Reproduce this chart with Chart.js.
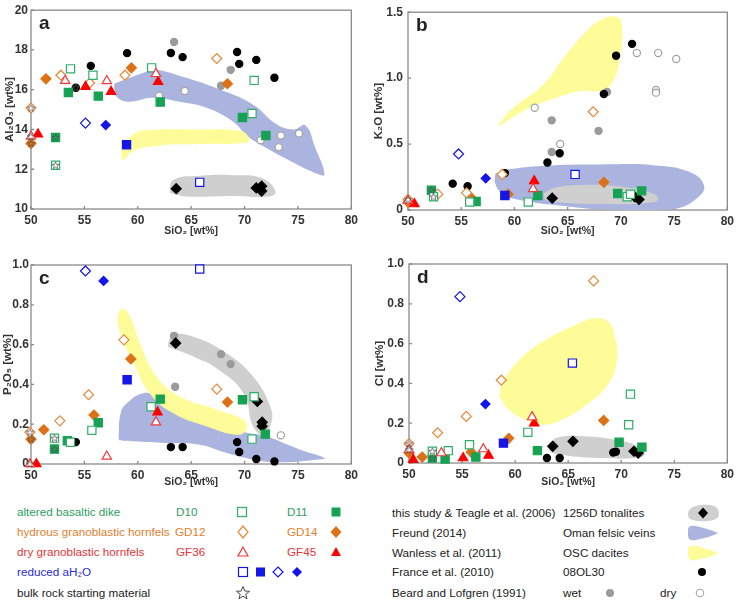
<!DOCTYPE html>
<html>
<head>
<meta charset="utf-8">
<script src="https://cdn.jsdelivr.net/npm/chart.js@4.4.0/dist/chart.umd.min.js"></script>
<style>
  body { margin: 0; background: #fff; width: 738px; height: 604px; position: relative; overflow: hidden;
         font-family: "Liberation Sans", Arial, sans-serif; }
  canvas { position: absolute; }
  .lg { position: absolute; font-size: 11.7px; line-height: 14px; white-space: nowrap; color: #222; }
  .ic { position: absolute; }
  .green { color: #2e9e5e; } .orange { color: #e0802c; } .red { color: #e83338; } .blue { color: #2b2bd6; }
</style>
</head>
<body>
<canvas id="chartA" width="362" height="240" style="left:0;top:0"></canvas>
<canvas id="chartB" width="368" height="240" style="left:370px;top:0"></canvas>
<canvas id="chartC" width="362" height="245" style="left:0;top:250px"></canvas>
<canvas id="chartD" width="368" height="245" style="left:370px;top:250px"></canvas>

<!-- legend, left block -->
<div class="lg green" style="left:17px;top:505px">altered basaltic dike</div>
<div class="lg green" style="left:176px;top:505px">D10</div>
<div class="lg green" style="left:287px;top:505px">D11</div>
<div class="lg orange" style="left:17px;top:525px">hydrous granoblastic hornfels</div>
<div class="lg orange" style="left:175px;top:525px">GD12</div>
<div class="lg orange" style="left:287px;top:525px">GD14</div>
<div class="lg red" style="left:17px;top:545px">dry granoblastic hornfels</div>
<div class="lg red" style="left:176px;top:545px">GF36</div>
<div class="lg red" style="left:287px;top:545px">GF45</div>
<div class="lg blue" style="left:17px;top:565px">reduced aH₂O</div>
<div class="lg" style="left:17px;top:586px">bulk rock starting material</div>

<svg class="ic" style="left:0;top:495px" width="370" height="109">
  <rect x="237.5" y="12.5" width="9" height="9" fill="#fff" stroke="#2fae6a" stroke-width="1.2"/>
  <rect x="331.5" y="12.5" width="9" height="9" fill="#17a253"/>
  <polygon points="243,31 248,37 243,43 238,37" fill="#fff" stroke="#e58a3a" stroke-width="1.2"/>
  <polygon points="336,31 341.5,37 336,43 330.5,37" fill="#dd7116"/>
  <polygon points="243,52 248,61 238,61" fill="#fff" stroke="#ef3b3b" stroke-width="1.2"/>
  <polygon points="336,52 341,61 331,61" fill="#f00"/>
  <rect x="238.5" y="72.5" width="9" height="9" fill="#fff" stroke="#1515e8" stroke-width="1.2"/>
  <rect x="256" y="72.5" width="9" height="9" fill="#1515e8"/>
  <polygon points="278,72 283,77 278,82 273,77" fill="#fff" stroke="#1515e8" stroke-width="1.2"/>
  <polygon points="297,72 302,77 297,82 292,77" fill="#1515e8"/>
  <polygon points="243,91.5 244.8,96 249.5,96.3 245.8,99.2 247,103.8 243,101.2 239,103.8 240.2,99.2 236.5,96.3 241.2,96"
           fill="none" stroke="#333" stroke-width="0.9"/>
</svg>

<!-- legend, right block -->
<div class="lg" style="left:392px;top:506px">this study &amp; Teagle et al. (2006)</div>
<div class="lg" style="left:563px;top:506px">1256D tonalites</div>
<div class="lg" style="left:392px;top:526px">Freund (2014)</div>
<div class="lg" style="left:563px;top:526px">Oman felsic veins</div>
<div class="lg" style="left:392px;top:546px">Wanless et al. (2011)</div>
<div class="lg" style="left:563px;top:546px">OSC dacites</div>
<div class="lg" style="left:392px;top:565px">France et al. (2010)</div>
<div class="lg" style="left:563px;top:565px">08OL30</div>
<div class="lg" style="left:392px;top:586px">Beard and Lofgren (1991)</div>
<div class="lg" style="left:563px;top:586px">wet</div>
<div class="lg" style="left:660px;top:586px">dry</div>

<svg class="ic" style="left:370px;top:495px" width="368" height="109">
  <path d="M318,19 C318,11 330,9 340,10 C349,11 350,18 348,22 C345,27 330,27 322,25 C319,24 318,22 318,19 Z" fill="#cfcfcf"/>
  <polygon points="333,12.5 338,18 333,23.5 328,18" fill="#000"/>
  <path d="M318,35 C318,30 322,30 328,31.5 C336,33.5 344,36 348,38 C344,41 334,43 326,45 C320,46 318,44 318,40 Z" fill="#aab4de"/>
  <path d="M318,55 C318,50 322,50 328,51.5 C336,53.5 344,56 348,58 C344,61 334,63 326,65 C320,66 318,64 318,60 Z" fill="#fdfc98"/>
  <circle cx="332" cy="77" r="4" fill="#000"/>
  <circle cx="240" cy="98" r="4" fill="#9b9b9b"/>
  <circle cx="330" cy="98" r="3.8" fill="#fff" stroke="#a0a0a0" stroke-width="1"/>
</svg>

<script>
/* ---------- AXIS TICKS ---------- */
const xTickValues = [50, 55, 60, 65, 70, 75, 80];
const yTicksA = [10, 12, 14, 16, 18, 20];
const yTicksB = [0, 0.5, 1.0, 1.5];
const yTicksCD = [0, 0.2, 0.4, 0.6, 0.8, 1.0];

/* ---------- PANEL a : Al2O3 ---------- */
const a_D10 = [[53.7,17.05],[55.8,16.73],[61.3,17.1],[70.9,16.47],[70.7,14.8],[52.3,12.2]];
const a_D11 = [[53.5,15.86],[56.3,15.68],[62.1,15.38],[69.8,14.6],[72.0,13.7],[52.3,13.6]];
const a_GD12 = [[52.8,16.73],[55.5,16.34],[58.8,16.73],[67.4,17.57],[50.0,15.08]];
const a_GD14 = [[51.4,16.55],[59.4,17.1],[68.4,16.3],[50.0,13.3]];
const a_GF36 = [[53.2,16.45],[57.1,16.44],[61.7,16.8],[50.0,13.65]];
const a_GF45 = [[50.65,13.76],[55.1,16.15],[57.5,15.9],[61.9,16.4]];
const a_redOpenSq = [[65.8,11.34]];
const a_redFillSq = [[58.95,13.23]];
const a_redOpenDia = [[55.1,14.32]];
const a_redFillDia = [[57.0,14.22]];
const a_tonalite = [[63.6,11.02],[71.1,11.06],[71.6,11.15],[71.6,10.9]];
const a_france = [[54.2,16.1],[55.6,17.2],[59.0,17.84],[63.1,17.85],[64.2,17.64],[69.3,17.9],[69.5,17.3],[71.1,17.5],[72.8,16.6]];
const a_wet = [[63.4,18.4],[68.7,17.0],[67.8,16.2]];
const a_dry = [[62.0,15.7],[64.4,15.94],[71.5,13.46],[73.4,13.7],[73.2,13.1],[75.1,13.8]];
const a_start = [[50.0,15.08],[50.0,13.65],[50.0,13.3],[52.3,13.6],[52.3,12.2],[54.2,16.1]];
const a_freund = [[57.8,16.3],[60.8,16.9],[61.7,17.0],[64.2,16.65],[67.4,16.07],[70.8,15.25],[73.0,14.26],[74.6,14.0],[75.7,14.2],
                  [76.6,13.1],[77.5,11.75],[76.9,11.75],[74.2,12.44],[71.4,13.27],[70.2,13.7],[68.9,14.4],[66.4,15.1],
                  [63.9,15.4],[61.4,15.6],[59.1,15.4],[58.0,15.66],[57.8,16.07]];
const a_wanless = [[58.5,12.44],[58.6,13.1],[59.6,13.76],[60.8,13.96],[65.8,14.0],[69.55,13.93],[70.4,13.6],[70.2,13.35],
                   [65.8,13.27],[62.1,13.2],[59.6,12.94],[58.8,12.52]];
const a_teagle = [[63.0,10.8],[63.3,11.45],[65.8,11.67],[68.9,11.7],[71.7,11.53],[72.9,10.87],[72.3,10.63],[68.9,10.66],[64.6,10.63]];

/* ---------- PANEL b : K2O ---------- */
const b_D10 = [[52.4,0.10],[55.8,0.06],[61.3,0.06],[70.6,0.10],[70.9,0.12]];
const b_D11 = [[52.2,0.15],[56.4,0.065],[62.2,0.11],[69.7,0.125],[71.95,0.145]];
const b_GD12 = [[50.0,0.08],[52.8,0.12],[55.5,0.13],[58.85,0.27],[67.4,0.745]];
const b_GD14 = [[55.9,0.095],[59.4,0.12],[68.4,0.21],[50.0,0.06]];
const b_GF36 = [[61.75,0.16],[50.0,0.07]];
const b_GF45 = [[50.6,0.045],[61.85,0.22]];
const b_redOpenSq = [[65.7,0.27]];
const b_redFillSq = [[59.1,0.11]];
const b_redOpenDia = [[54.75,0.425]];
const b_redFillDia = [[57.3,0.24]];
const b_tonalite = [[63.55,0.09],[71.3,0.10],[71.7,0.08]];
const b_france = [[54.2,0.20],[55.6,0.18],[59.1,0.28],[63.1,0.36],[64.25,0.43],[68.4,0.88],[69.55,1.17],[71.05,1.26]];
const b_wet = [[63.5,0.68],[63.5,0.44],[67.9,0.60],[68.7,0.895]];
const b_dry = [[61.9,0.775],[64.3,0.50],[71.5,1.19],[73.5,1.19],[75.2,1.145],[73.3,0.91],[73.3,0.89]];
const b_start = [[50.0,0.08],[52.2,0.15],[52.4,0.10]];
const b_freund = [[58.2,0.275],[59.6,0.31],[63.9,0.34],[68.3,0.345],[73.0,0.34],[76.4,0.29],[77.8,0.19],[77.3,0.10],
                  [75.2,0.01],[71.4,0.0],[68.3,0.005],[65.2,0.025],[60.5,0.075],[58.9,0.125],[58.2,0.2]];
const b_wanless = [[58.5,0.65],[59.9,0.775],[62.7,0.95],[64.6,1.15],[66.4,1.325],[68.3,1.45],[69.7,1.46],[70.1,1.4],
                   [70.0,1.2],[69.4,1.0],[68.3,0.91],[66.1,0.9],[63.9,0.85],[61.4,0.775],[59.3,0.675],[58.6,0.64]];
const b_teagle = [[62.7,0.125],[63.9,0.17],[66.4,0.19],[70.2,0.175],[73.0,0.125],[73.5,0.075],[72.0,0.05],[68.3,0.045],
                  [64.6,0.055],[63.0,0.075]];

/* ---------- PANEL c : P2O5 ---------- */
const c_D10 = [[55.7,0.169],[53.7,0.109],[61.25,0.288],[70.9,0.338],[70.7,0.125],[52.2,0.13]];
const c_D11 = [[56.3,0.207],[53.4,0.117],[62.1,0.326],[69.8,0.323],[71.95,0.15],[52.2,0.075]];
const c_GD12 = [[58.7,0.624],[55.4,0.348],[52.7,0.217],[67.4,0.376],[49.9,0.16]];
const c_GD14 = [[59.35,0.528],[55.9,0.246],[51.2,0.172],[68.4,0.311],[50.0,0.125]];
const c_GF36 = [[61.7,0.21],[57.1,0.038],[49.9,0.0]];
const c_GF45 = [[61.85,0.26],[50.5,0.0]];
const c_redOpenSq = [[65.8,0.98]];
const c_redFillSq = [[59.0,0.423]];
const c_redOpenDia = [[55.1,0.97]];
const c_redFillDia = [[56.8,0.92]];
const c_tonalite = [[63.55,0.607],[71.2,0.314],[71.65,0.21],[71.65,0.19]];
const c_france = [[54.2,0.11],[63.1,0.085],[64.2,0.085],[69.3,0.11],[69.5,0.06],[71.1,0.025],[72.8,0.013]];
const c_wet = [[63.4,0.644],[67.8,0.552],[68.7,0.502],[63.5,0.388]];
const c_dry = [[73.4,0.144]];
const c_start = [[49.9,0.16],[50.0,0.125],[52.2,0.13],[52.2,0.075],[49.9,0.0]];
const c_freund = [[58.2,0.13],[58.4,0.256],[59.0,0.306],[60.5,0.356],[61.75,0.34],[64.0,0.26],[67.0,0.2],[70.0,0.16],
                  [72.0,0.139],[75.2,0.072],[77.5,0.03],[77.0,0.022],[72.7,0.01],[68.9,0.047],[65.8,0.097],[62.7,0.105],
                  [59.6,0.114],[58.3,0.119]];
const c_wanless = [[58.2,0.758],[58.6,0.783],[59.3,0.74],[60.2,0.607],[61.75,0.44],[63.9,0.34],[67.4,0.273],[69.9,0.222],
                   [70.2,0.18],[69.4,0.147],[66.4,0.19],[63.3,0.256],[61.1,0.356],[59.6,0.507],[58.5,0.64],[58.1,0.724]];
const c_teagle = [[62.85,0.607],[63.3,0.649],[65.2,0.64],[68.3,0.557],[70.8,0.44],[72.4,0.29],[72.5,0.206],[71.7,0.147],
                  [70.8,0.19],[69.9,0.356],[67.4,0.48],[65.2,0.54],[63.6,0.574],[62.85,0.59]];

/* ---------- PANEL d : Cl ---------- */
const d_D10 = [[70.87,0.346],[70.7,0.192],[61.2,0.154],[55.7,0.092],[53.7,0.062],[52.2,0.059]];
const d_D11 = [[52.2,0.025],[53.4,0.02],[56.3,0.03],[62.1,0.062],[69.8,0.104],[71.95,0.08]];
const d_GD12 = [[67.4,0.915],[58.7,0.416],[55.4,0.234],[52.7,0.152],[50.0,0.097]];
const d_GD14 = [[51.25,0.03],[55.85,0.055],[59.4,0.124],[68.35,0.214],[50.0,0.05]];
const d_GF36 = [[61.6,0.231],[57.0,0.07],[53.05,0.05],[50.0,0.067]];
const d_GF45 = [[61.8,0.2],[55.1,0.025],[57.5,0.038],[50.4,0.017]];
const d_redOpenSq = [[65.4,0.502]];
const d_redFillSq = [[58.9,0.1]];
const d_redOpenDia = [[54.8,0.836]];
const d_redFillDia = [[57.2,0.296]];
const d_tonalite = [[63.55,0.084],[65.45,0.109],[71.2,0.059],[71.6,0.05]];
const d_france = [[63.0,0.025],[64.2,0.025],[69.25,0.053],[69.5,0.057]];
const d_wet = [];
const d_dry = [];
const d_start = [[50.0,0.097],[50.0,0.067],[52.2,0.059],[52.2,0.025]];
const d_freund = [];
const d_wanless = [[58.5,0.334],[58.8,0.4],[60.4,0.518],[62.9,0.619],[65.7,0.694],[67.5,0.727],[68.8,0.71],[69.4,0.635],
                   [69.6,0.518],[68.8,0.4],[66.9,0.3],[64.4,0.217],[62.55,0.192],[61.0,0.217],[59.4,0.268]];
const d_teagle = [[63.2,0.1],[64.1,0.13],[66.6,0.134],[69.4,0.117],[71.6,0.084],[72.2,0.042],[71.3,0.025],[68.2,0.025],
                  [65.0,0.037],[63.3,0.058]];

/* ---------- STYLES ---------- */
const FONT = '"Liberation Sans", Arial, sans-serif';
const BLUE = '#1515e8';

function starImage() {
    const c = document.createElement('canvas');
    c.width = 9; c.height = 9;
    const g = c.getContext('2d');
    g.beginPath();
    for (let i = 0; i < 10; i++) {
        const r = i % 2 ? 1.6 : 3.9;
        const ang = -Math.PI / 2 + i * Math.PI / 5;
        g.lineTo(4.5 + r * Math.cos(ang), 4.8 + r * Math.sin(ang));
    }
    g.closePath();
    g.strokeStyle = '#555';
    g.lineWidth = 0.8;
    g.stroke();
    return c;
}
const STAR = starImage();

function pts(arr) {
    return arr.map(p => ({ x: p[0], y: p[1] }));
}

function marker(arr, style, radius, fill, stroke, order) {
    return {
        data: pts(arr),
        pointStyle: style,
        pointRadius: radius,
        backgroundColor: fill,
        borderColor: stroke,
        borderWidth: 1.2,
        showLine: false,
        clip: false,
        order: order
    };
}

function field(arr, color, order) {
    if (!arr.length) return null;
    return {
        data: pts(arr.concat([arr[0]])),
        showLine: true,
        fill: 'shape',
        tension: 0.45,
        backgroundColor: color,
        borderWidth: 0,
        borderColor: 'rgba(0,0,0,0)',
        pointRadius: 0,
        order: order
    };
}

function buildDatasets(p) {
    return [
        field(p.freund, '#aab4de', 12),
        field(p.wanless, '#fdfc98', 11),
        field(p.teagle, '#cfcfcf', 10),
        marker(p.dry, 'circle', 3.6, '#ffffff', '#a0a0a0', 6),
        marker(p.wet, 'circle', 3.6, '#9b9b9b', '#9b9b9b', 6),
        marker(p.france, 'circle', 3.6, '#000000', '#000000', 5),
        marker(p.tonalite, 'rectRot', 5, '#000000', '#000000', 4),
        marker(p.D10, 'rect', 5.8, '#ffffff', '#2fae6a', 3),
        marker(p.D11, 'rect', 5.8, '#17a253', '#17a253', 3),
        marker(p.GD12, 'rectRot', 5, '#ffffff', '#e58a3a', 3),
        marker(p.GD14, 'rectRot', 5, '#dd7116', '#dd7116', 3),
        marker(p.GF36, 'triangle', 5.4, '#ffffff', '#ef3b3b', 2),
        marker(p.GF45, 'triangle', 5.4, '#ff0000', '#ff0000', 2),
        marker(p.redOpenSq, 'rect', 5.8, '#ffffff', BLUE, 2),
        marker(p.redFillSq, 'rect', 5.8, BLUE, BLUE, 2),
        marker(p.redOpenDia, 'rectRot', 5, '#ffffff', BLUE, 2),
        marker(p.redFillDia, 'rectRot', 4.6, BLUE, BLUE, 2),
        { data: pts(p.start), pointStyle: STAR, pointRadius: 4, showLine: false, clip: false, order: 0 }
    ].filter(Boolean);
}

/* ---------- FRAME + PANEL LETTER ---------- */
const framePlugin = {
    id: 'frame',
    beforeDatasetsDraw(chart) {
        const { ctx, chartArea: a, scales } = chart;
        ctx.save();
        ctx.strokeStyle = '#8a8a8a';
        ctx.lineWidth = 1.3;
        ctx.strokeRect(a.left, a.top, a.right - a.left, a.bottom - a.top);
        ctx.beginPath();
        scales.x.ticks.forEach(t => {
            const px = scales.x.getPixelForValue(t.value);
            ctx.moveTo(px, a.bottom); ctx.lineTo(px, a.bottom - 3);
        });
        scales.y.ticks.forEach(t => {
            const py = scales.y.getPixelForValue(t.value);
            ctx.moveTo(a.left, py); ctx.lineTo(a.left + 3, py);
        });
        ctx.stroke();
        ctx.restore();
    },
    afterDraw(chart, args, opts) {
        const { ctx, chartArea: a } = chart;
        ctx.save();
        ctx.font = 'bold 19px ' + FONT;
        ctx.fillStyle = '#222';
        ctx.fillText(opts.letter, a.left + 8, a.top + 19);
        ctx.restore();
    }
};

/* ---------- CHART FACTORY ---------- */
function makePanel(id, p, cfg) {
    const fmt = cfg.decimals ? (v => v === 0 ? '0' : v.toFixed(1)) : (v => String(v));
    new Chart(document.getElementById(id), {
        type: 'scatter',
        data: { datasets: buildDatasets(p) },
        options: {
            responsive: false,
            animation: false,
            events: [],
            layout: { padding: { top: cfg.top, right: cfg.right, left: 0, bottom: 0 } },
            plugins: {
                legend: { display: false },
                tooltip: { enabled: false },
                frame: { letter: cfg.letter }
            },
            scales: {
                x: {
                    type: 'linear', min: 50, max: 80,
                    afterBuildTicks: s => { s.ticks = xTickValues.map(v => ({ value: v })); },
                    afterFit: s => { s.height = cfg.xh; },
                    grid: { display: false, drawTicks: false },
                    border: { display: false },
                    ticks: { padding: 4, color: '#333', font: { family: FONT, size: 12, weight: 'bold' }, maxRotation: 0 },
                    title: { display: true, text: 'SiO₂ [wt%]', color: '#333',
                             font: { family: FONT, size: 10.5, weight: 'bold' }, padding: { top: 0, bottom: cfg.xtPad } }
                },
                y: {
                    type: 'linear', min: cfg.ymin, max: cfg.ymax,
                    afterBuildTicks: s => { s.ticks = cfg.yticks.map(v => ({ value: v })); },
                    afterFit: s => { s.width = cfg.yw; },
                    grid: { display: false, drawTicks: false },
                    border: { display: false },
                    ticks: { padding: cfg.ytick, color: '#333', font: { family: FONT, size: 12, weight: 'bold' },
                             callback: v => fmt(v) },
                    title: { display: true, text: cfg.ytitle, color: '#333',
                             font: { family: FONT, size: 11.5, weight: 'bold' }, padding: { top: cfg.ytPad, bottom: 0 } }
                }
            }
        },
        plugins: [framePlugin]
    });
}

document.addEventListener("DOMContentLoaded", () => {
    makePanel('chartA', {
        D10: a_D10, D11: a_D11, GD12: a_GD12, GD14: a_GD14, GF36: a_GF36, GF45: a_GF45,
        redOpenSq: a_redOpenSq, redFillSq: a_redFillSq, redOpenDia: a_redOpenDia, redFillDia: a_redFillDia,
        tonalite: a_tonalite, france: a_france, wet: a_wet, dry: a_dry, start: a_start,
        freund: a_freund, wanless: a_wanless, teagle: a_teagle
    }, { letter: 'a', top: 7, right: 10, yw: 31, xh: 31, xtPad: 3, ytPad: 3, ytick: 3,
         ymin: 10, ymax: 20, yticks: yTicksA, decimals: false, ytitle: 'Al₂O₃ [wt%]' });

    makePanel('chartB', {
        D10: b_D10, D11: b_D11, GD12: b_GD12, GD14: b_GD14, GF36: b_GF36, GF45: b_GF45,
        redOpenSq: b_redOpenSq, redFillSq: b_redFillSq, redOpenDia: b_redOpenDia, redFillDia: b_redFillDia,
        tonalite: b_tonalite, france: b_france, wet: b_wet, dry: b_dry, start: b_start,
        freund: b_freund, wanless: b_wanless, teagle: b_teagle
    }, { letter: 'b', top: 9, right: 10, yw: 38, xh: 30, xtPad: 3, ytPad: 1.5, ytick: 5,
         ymin: 0, ymax: 1.5, yticks: yTicksB, decimals: true, ytitle: 'K₂O [wt%]' });

    makePanel('chartC', {
        D10: c_D10, D11: c_D11, GD12: c_GD12, GD14: c_GD14, GF36: c_GF36, GF45: c_GF45,
        redOpenSq: c_redOpenSq, redFillSq: c_redFillSq, redOpenDia: c_redOpenDia, redFillDia: c_redFillDia,
        tonalite: c_tonalite, france: c_france, wet: c_wet, dry: c_dry, start: c_start,
        freund: c_freund, wanless: c_wanless, teagle: c_teagle
    }, { letter: 'c', top: 15, right: 10, yw: 31, xh: 31, xtPad: 7, ytPad: 0.5, ytick: 2,
         ymin: 0, ymax: 1.0, yticks: yTicksCD, decimals: true, ytitle: 'P₂O₅ [wt%]' });

    makePanel('chartD', {
        D10: d_D10, D11: d_D11, GD12: d_GD12, GD14: d_GD14, GF36: d_GF36, GF45: d_GF45,
        redOpenSq: d_redOpenSq, redFillSq: d_redFillSq, redOpenDia: d_redOpenDia, redFillDia: d_redFillDia,
        tonalite: d_tonalite, france: d_france, wet: d_wet, dry: d_dry, start: d_start,
        freund: d_freund, wanless: d_wanless, teagle: d_teagle
    }, { letter: 'd', top: 14, right: 8, yw: 39, xh: 32, xtPad: 7, ytPad: 3, ytick: 5,
         ymin: 0, ymax: 1.0, yticks: yTicksCD, decimals: true, ytitle: 'Cl [wt%]' });
});
</script>
</body>
</html>
